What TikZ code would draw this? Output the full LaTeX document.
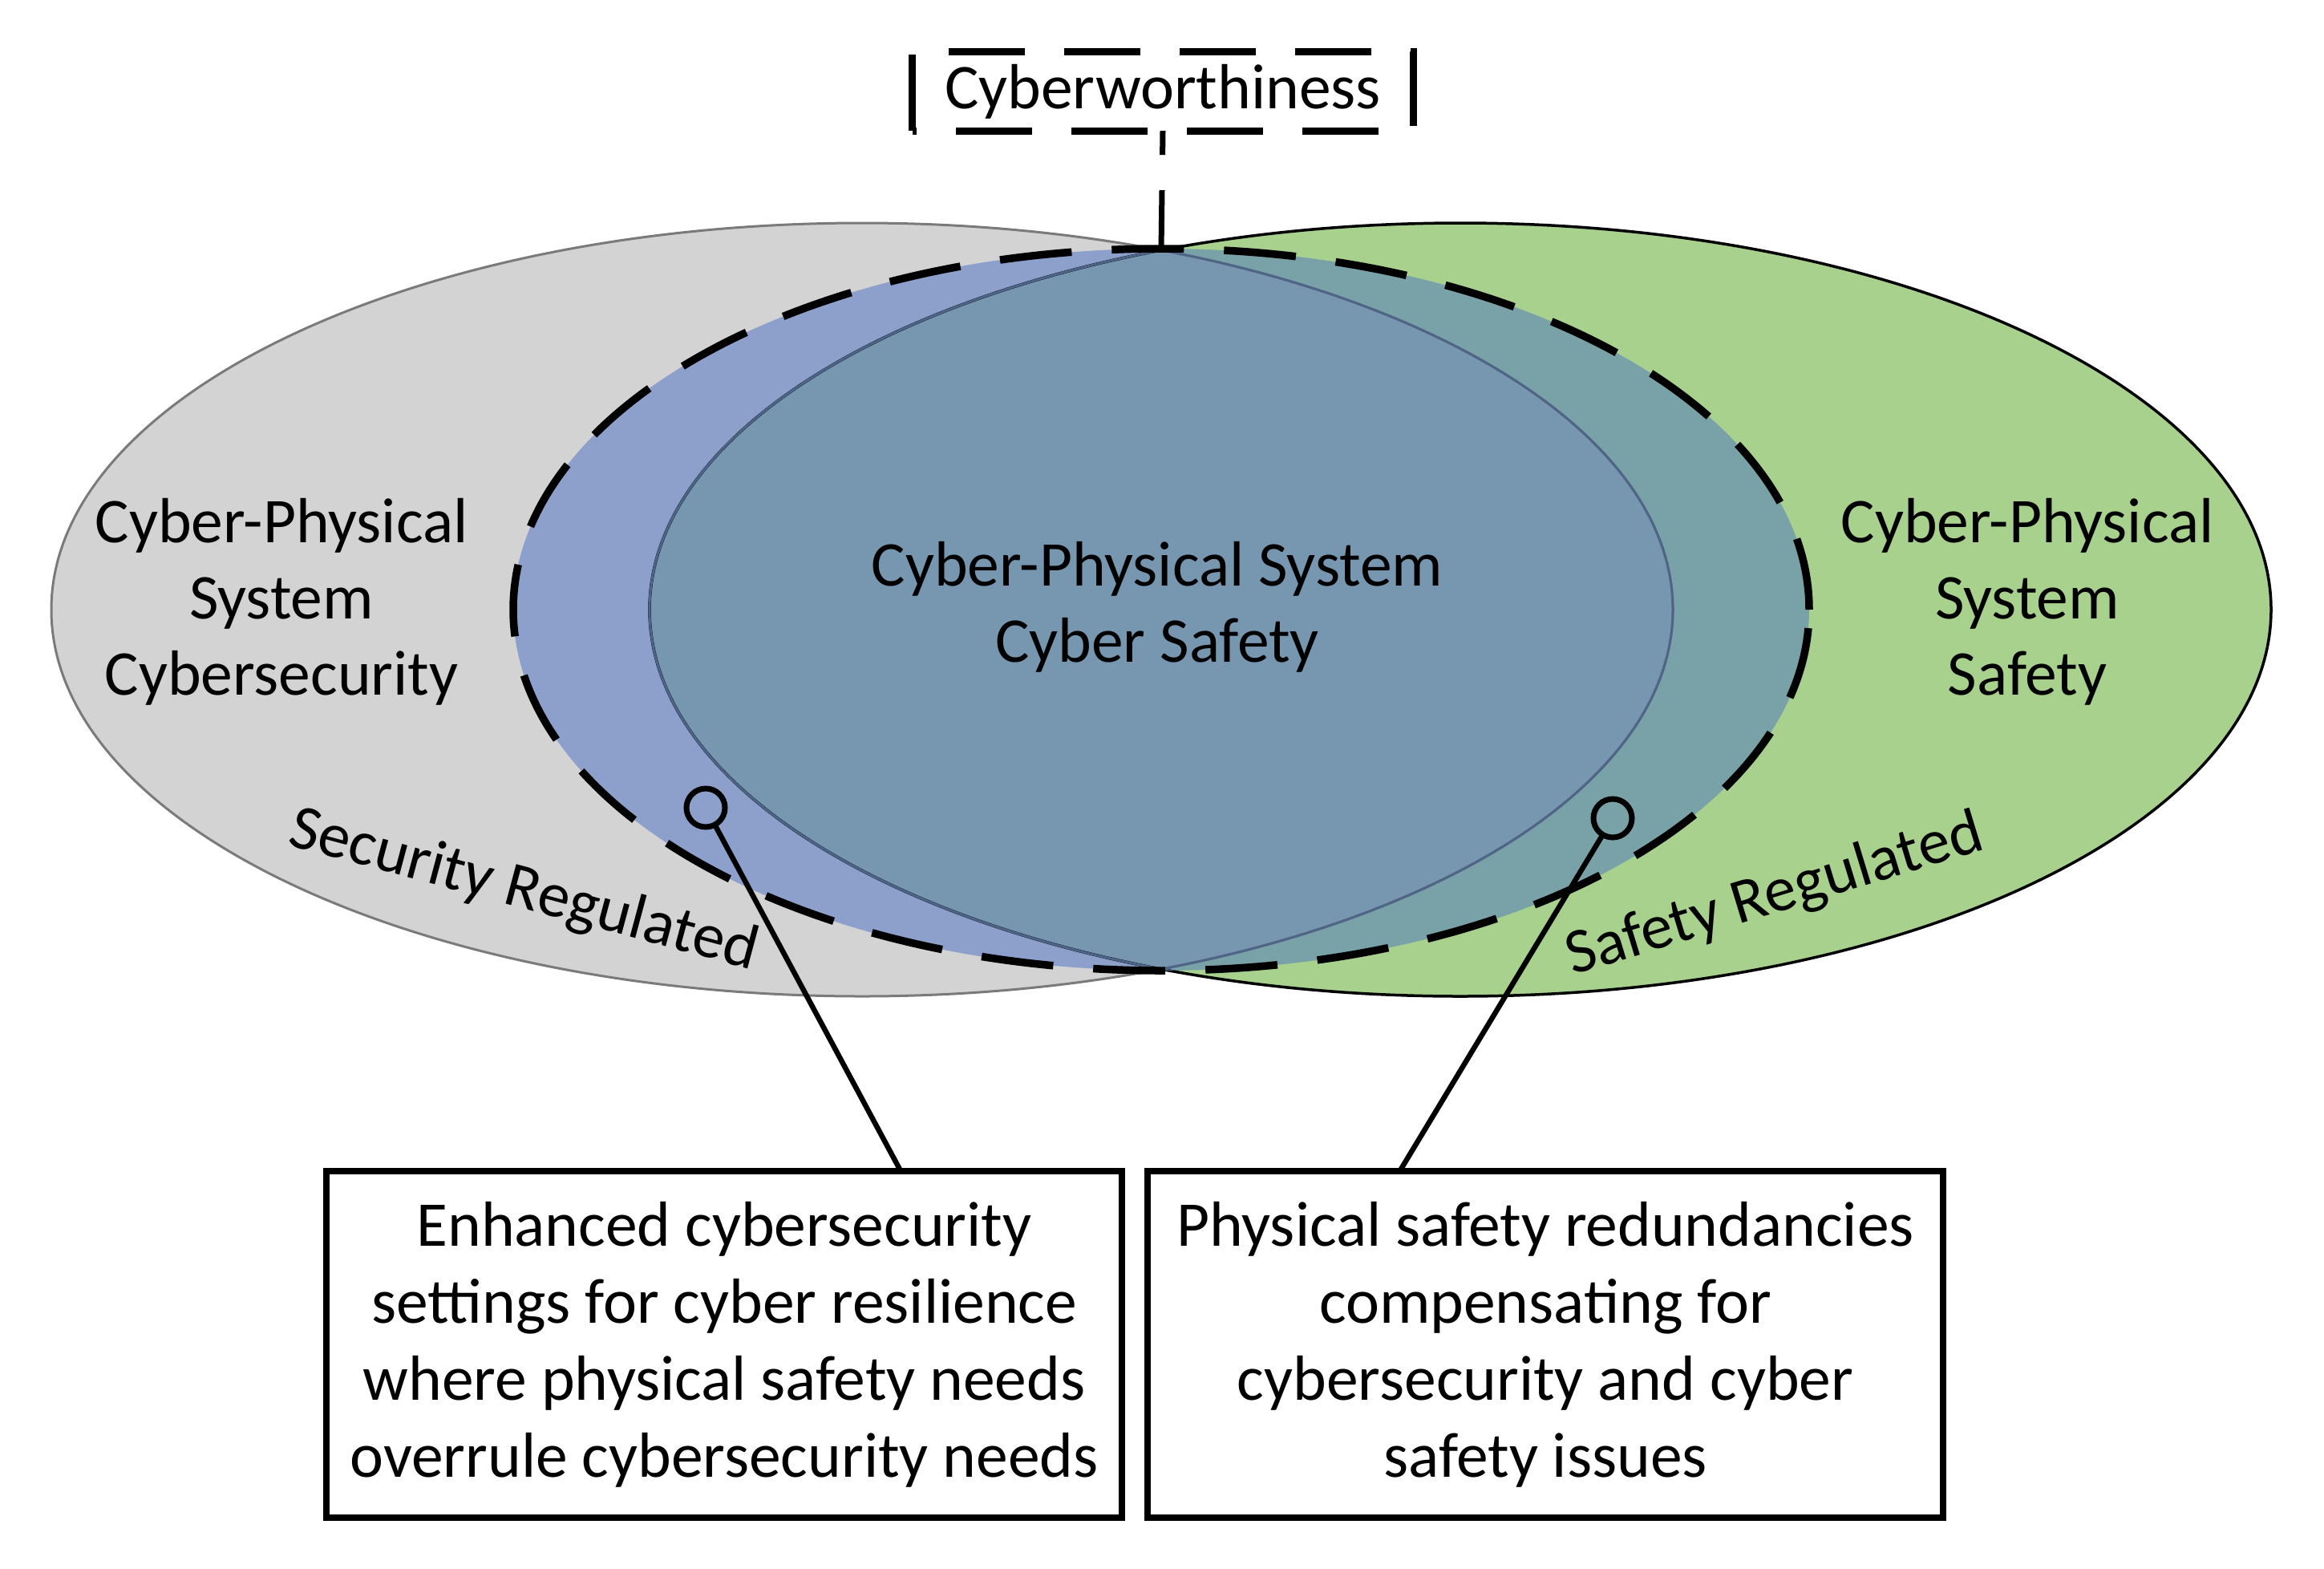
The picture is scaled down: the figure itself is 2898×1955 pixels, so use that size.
\documentclass[tikz,border=0pt]{standalone}
\usepackage{fontspec}
\setmainfont{Carlito}
\usetikzlibrary{calc,shapes.geometric}
\definecolor{grayfill}{HTML}{D3D3D3}
\definecolor{grayline}{HTML}{7A7A7A}
\definecolor{greenfill}{HTML}{A9D18E}
\definecolor{bluegray}{HTML}{8DA0CB}
\definecolor{bluegreen}{HTML}{79A2A8}
\definecolor{lensblue}{HTML}{7796B0}
\definecolor{lensline}{HTML}{4E6488}
\begin{document}
\begin{tikzpicture}[x=1pt,y=1pt,
  txt/.style={font=\fontsize{79.5}{95}\selectfont, align=center, inner sep=0pt},
  callbox/.style={draw, fill=white, line width=8pt, minimum width=992pt, minimum height=432pt,
    inner sep=0pt, outer sep=0pt, font=\fontsize{79.5}{96}\selectfont, align=center},
  dot/.style={circle, draw, line width=7pt, minimum size=48pt, inner sep=0pt, outer sep=0pt},
  lead/.style={line width=6.5pt},
]
\useasboundingbox (0,0) rectangle (2898,-1955);
\fill[white] (0,0) rectangle (2898,-1955);

% big ellipses
\path[fill=grayfill] (1075,-760) ellipse [x radius=1011, y radius=482];
\path[fill=greenfill] (1821,-760) ellipse [x radius=1011, y radius=482];
\begin{scope}
  \clip (1448,-760) ellipse [x radius=808, y radius=450];
  \fill[bluegray] (1075,-760) ellipse [x radius=1011, y radius=482];
  \fill[bluegreen] (1821,-760) ellipse [x radius=1011, y radius=482];
  \clip (1075,-760) ellipse [x radius=1011, y radius=482];
  \fill[lensblue] (1821,-760) ellipse [x radius=1011, y radius=482];
\end{scope}
\draw[grayline, line width=3pt] (1075,-760) ellipse [x radius=1011, y radius=482];
\draw[black, line width=3.5pt] (1821,-760) ellipse [x radius=1011, y radius=482];
\begin{scope}
  \clip (1448,-760) ellipse [x radius=808, y radius=450];
  \draw[lensline, line width=3pt] (1075,-760) ellipse [x radius=1011, y radius=482];
  \draw[lensline, line width=3pt] (1821,-760) ellipse [x radius=1011, y radius=482];
\end{scope}

% cyberworthiness dashed ellipse
\node[ellipse, draw, line width=9.5pt, dash pattern=on 90pt off 50pt, minimum width=1616pt,
  minimum height=900pt, inner sep=0pt, outer sep=0pt] (cw) at (1448,-760) {};

% cyberworthiness label
\node[txt, minimum width=624pt, minimum height=98pt] (cwbox) at (1450,-114) {Cyberworthiness};
\draw[line width=9pt, dash pattern=on 95pt off 49pt] (cwbox.south west) -- (cwbox.north west) -- (cwbox.north east) -- (cwbox.south east) -- cycle;
\draw[line width=7pt, dash pattern=on 70pt off 44pt, dash phase=40pt] (cwbox.south) -- (cw.north);

% texts
\node[txt] (lefttxt) at (351,-750) {Cyber-Physical\\System\\Cybersecurity};
\node[txt] (righttxt) at (2528,-750) {Cyber-Physical\\System\\Safety};
\node[txt] (centertxt) at (1443,-757) {Cyber-Physical System\\Cyber Safety};
\node[txt, rotate=-15] (secreg) at (653,-1111) {Security Regulated};
\node[txt, rotate=17] (safreg) at (2213,-1117) {Safety Regulated};

% callouts
\node[dot] (d1) at (880,-1007) {};
\node[dot] (d2) at (2011,-1020) {};
\node[callbox] (b1) at (903,-1676) {Enhanced cybersecurity\\settings for cyber resilience\\where physical safety needs\\overrule cybersecurity needs};
\node[callbox] (b2) at (1927,-1676) {Physical safety redundancies\\compensating for\\cybersecurity and cyber\\safety issues};
\draw[lead] (d1) -- ($(b1.north west)!0.722!(b1.north east)$);
\draw[lead] (d2) -- ($(b2.north west)!0.317!(b2.north east)$);
\end{tikzpicture}
\end{document}
